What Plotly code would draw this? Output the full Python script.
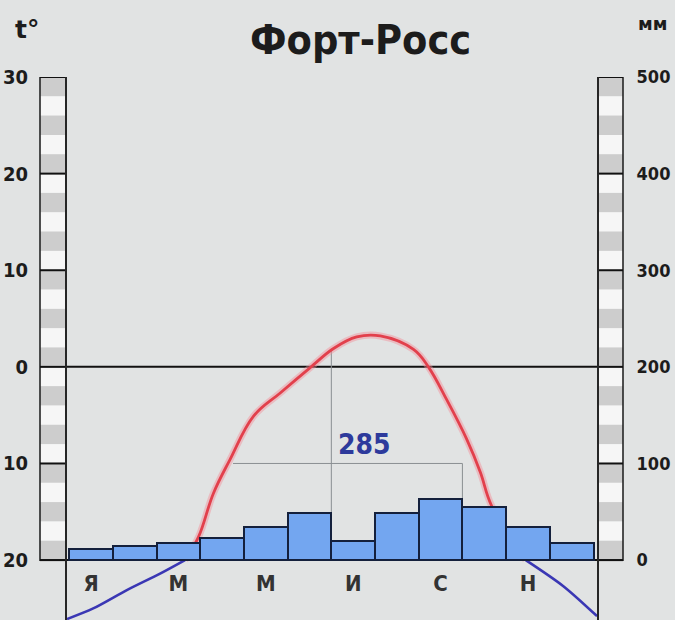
import plotly.graph_objects as go

# ---------------- data ----------------
month_idx = list(range(12))
precip_mm = [11, 14.5, 18, 23, 34.5, 49, 20, 49, 63, 54.5, 34.5, 18]

# temperature curve (x in month index, value in °C)
temp_x = [-0.55, 0.05, 0.82, 1.58, 2.15, 2.46, 2.80, 3.18, 3.72, 4.33, 5.01, 5.55,
          6.08, 6.62, 7.38, 7.72, 8.14, 8.60, 8.91, 9.17, 9.95, 10.81, 11.58]
temp_c = [-26.1, -25.0, -23.1, -21.4, -20.0, -17.6, -13.1, -9.6, -5.1, -2.7, -0.1, 1.9,
          3.1, 3.2, 1.8, 0.0, -3.4, -7.5, -10.9, -14.4, -20.0, -22.7, -25.8]

month_label_pos = [0, 2, 4, 6, 8, 10]
month_labels = ["Я", "М", "М", "И", "С", "Н"]

left_tickvals = [-20, -10, 0, 10, 20, 30]
left_ticktext = ["20", "10", "0", "10", "20", "30"]
right_tickvals = [0, 100, 200, 300, 400, 500]
right_ticktext = ["0", "100", "200", "300", "400", "500"]

title_text = "Форт-Росс"
annual_total = "285"

# ---------------- layout constants ----------------
W, H = 675, 620
ML, MR, MT, MB = 67, 78, 77, 0
PW, PH = W - ML - MR, H - MT - MB
T_MIN, T_MAX = -26.2, 30
MM_MIN, MM_MAX = (T_MIN + 20) * 10, 500
X_MIN, X_MAX = -0.55, 11.58


def px_x(px):
    return (px - ML) / PW


def px_y(py):
    return (H - MB - py) / PH


BG = "#e1e3e3"
DARK = "#262626"
COND = "DejaVu Sans Condensed, DejaVu Sans"

# split temperature curve: red where >= -20 (inside the chart), blue below
red_idx = [i for i, t in enumerate(temp_c) if t >= -20]
lo, hi = red_idx[0], red_idx[-1]

fig = go.Figure()

# red halo + red line
fig.add_trace(go.Scatter(x=temp_x[lo:hi + 1], y=temp_c[lo:hi + 1], mode="lines",
                         line=dict(color="rgba(245,140,150,0.45)", width=7, shape="spline", smoothing=1.1),
                         hoverinfo="skip", showlegend=False, yaxis="y"))
fig.add_trace(go.Scatter(x=temp_x[lo:hi + 1], y=temp_c[lo:hi + 1], mode="lines",
                         line=dict(color="#e2404c", width=2.8, shape="spline", smoothing=1.1),
                         showlegend=False, yaxis="y"))
# blue parts
for xs, ys in [(temp_x[:lo + 1], temp_c[:lo + 1]), (temp_x[hi:], temp_c[hi:])]:
    fig.add_trace(go.Scatter(x=xs, y=ys, mode="lines",
                             line=dict(color="#3a37b4", width=2.6, shape="spline", smoothing=0.8),
                             showlegend=False, yaxis="y"))

# month labels below the baseline
fig.add_trace(go.Scatter(x=month_label_pos, y=[-22.6] * len(month_label_pos), mode="text",
                         text=month_labels,
                         textfont=dict(family=COND, size=22, color="#333333", weight="bold"),
                         showlegend=False, yaxis="y", hoverinfo="skip"))

# precipitation bars (overlaying axis -> drawn above the lines)
fig.add_trace(go.Bar(x=month_idx, y=precip_mm, width=1.0, yaxis="y2",
                     marker=dict(color="#73a6f0", line=dict(color="#14203c", width=2)),
                     showlegend=False))

shapes = []
# striped scale bars at both sides
band_colors = ["#cdcdcd", "#f6f6f6"]
for k in range(25):
    top = 30 - 2 * k
    for x0, x1 in [(px_x(40), px_x(66)), (px_x(598), px_x(623))]:
        shapes.append(dict(type="rect", xref="paper", yref="y", x0=x0, x1=x1, y0=top - 2, y1=top,
                           fillcolor=band_colors[k % 2], line=dict(width=0), layer="below"))
for x0, x1 in [(px_x(40), px_x(66)), (px_x(598), px_x(623))]:
    shapes.append(dict(type="rect", xref="paper", yref="y", x0=x0, x1=x1, y0=-20, y1=30,
                       fillcolor="rgba(0,0,0,0)", line=dict(color=DARK, width=1.6), layer="below"))
# tick lines across the scale bars
for v in left_tickvals:
    for x0, x1 in [(px_x(40), 0), (1, px_x(623))]:
        shapes.append(dict(type="line", xref="paper", yref="y", x0=x0, x1=x1, y0=v, y1=v,
                           line=dict(color="#111111", width=2), layer="below"))
# zero line and baseline
shapes.append(dict(type="line", xref="paper", yref="y", x0=0, x1=1, y0=0, y1=0,
                   line=dict(color="#111111", width=2), layer="below"))
shapes.append(dict(type="line", xref="paper", yref="y", x0=0, x1=1, y0=-20, y1=-20,
                   line=dict(color="#111111", width=2), layer="below"))
# thin grey guide lines
guide = dict(color="#8a8f92", width=1)
shapes.append(dict(type="line", xref="x", yref="y", x0=5.5, x1=5.5, y0=1.9, y1=-20, line=guide, layer="below"))
shapes.append(dict(type="line", xref="x", yref="y", x0=3.25, x1=8.5, y0=-10, y1=-10, line=guide, layer="below"))
shapes.append(dict(type="line", xref="x", yref="y", x0=8.5, x1=8.5, y0=-10, y1=-20, line=guide, layer="below"))

annotations = [
    dict(text=title_text, xref="paper", yref="paper", x=px_x(360), y=px_y(40),
         xanchor="center", yanchor="middle", showarrow=False,
         font=dict(family=COND, size=41, color="#1c1c1c", weight="bold")),
    dict(text="t°", xref="paper", yref="paper", x=px_x(27), y=px_y(29),
         xanchor="center", yanchor="middle", showarrow=False,
         font=dict(family="DejaVu Sans", size=25, color="#1c1c1c", weight="bold")),
    dict(text="мм", xref="paper", yref="paper", x=px_x(652), y=px_y(23),
         xanchor="center", yanchor="middle", showarrow=False,
         font=dict(family="DejaVu Sans", size=18, color="#1c1c1c", weight="bold")),
    dict(text=annual_total, xref="x", yref="y", x=6.25, y=-8.0,
         xanchor="center", yanchor="middle", showarrow=False,
         font=dict(family=COND, size=28, color="#2d3a9c", weight="bold")),
]

fig.update_layout(
    width=W, height=H,
    margin=dict(l=ML, r=MR, t=MT, b=MB, autoexpand=False),
    paper_bgcolor=BG, plot_bgcolor="rgba(0,0,0,0)",
    bargap=0, showlegend=False,
    xaxis=dict(range=[X_MIN, X_MAX], showgrid=False, zeroline=False, showticklabels=False,
               showline=False, fixedrange=True),
    yaxis=dict(range=[T_MIN, T_MAX], tickvals=left_tickvals, ticktext=left_ticktext,
               showgrid=False, zeroline=False, showline=True, linecolor=DARK, linewidth=2,
               ticks="", ticklabelstandoff=33,
               tickfont=dict(family=COND, size=20, color="#1c1c1c", weight="bold")),
    yaxis2=dict(range=[MM_MIN, MM_MAX], overlaying="y", side="right",
                tickvals=right_tickvals, ticktext=right_ticktext,
                showgrid=False, zeroline=False, showline=True, linecolor=DARK, linewidth=2,
                ticks="", ticklabelstandoff=34,
                tickfont=dict(family=COND, size=18, color="#1c1c1c", weight="bold")),
    shapes=shapes,
    annotations=annotations,
)

fig.write_html("out.html", config={"displayModeBar": False},
               post_script="document.body.style.margin='0px';")
